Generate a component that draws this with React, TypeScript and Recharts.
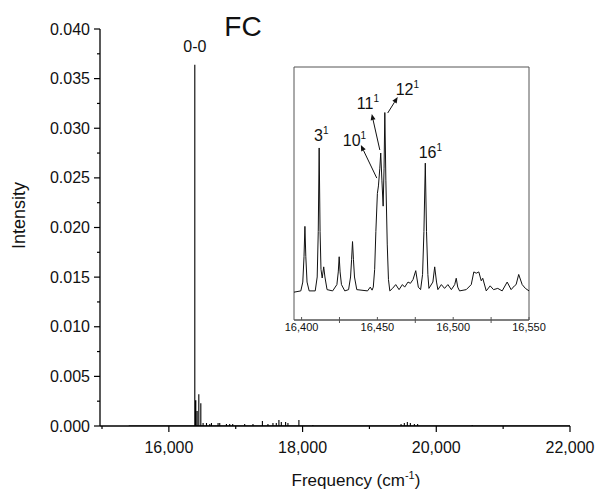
import React from 'react';
import { LineChart, Line, XAxis, YAxis, ReferenceDot, ReferenceLine, ReferenceArea } from 'recharts';

const FONT = '"Liberation Sans", Arial, sans-serif';

// main stick spectrum (cm-1, intensity)
const stickFreq = [
  16388, 16403, 16423, 16448, 16478, 16512, 16563, 16612, 16637, 16736, 16761, 16861, 16910,
  16955, 17134, 17258, 17399, 17482, 17557, 17607, 17646, 17682, 17746, 17781, 17945, 18154,
  19473, 19522, 19567, 19612, 19672, 19721, 20537,
];
const stickHeight = [
  0.0364, 0.0026, 0.0015, 0.0032, 0.0023, 0.0003, 0.0003, 0.0002, 0.0003, 0.0003, 0.0003, 0.0002,
  0.0002, 0.0002, 0.0002, 0.0002, 0.0005, 0.0002, 0.0003, 0.0003, 0.0006, 0.0004, 0.0004, 0.0003,
  0.0006, 0.0001, 0.0002, 0.0003, 0.0004, 0.0003, 0.0002, 0.0002, 0.0001,
];
const spectrumStart = 15400;
const spectrumEnd = 22000;

const mainXDomain = [14970, 22000];
const mainXTicks = [15000, 16000, 17000, 18000, 19000, 20000, 21000, 22000];
const mainYTicks = [
  0, 0.0025, 0.005, 0.0075, 0.01, 0.0125, 0.015, 0.0175, 0.02, 0.0225, 0.025, 0.0275, 0.03,
  0.0325, 0.035, 0.0375, 0.04,
];

// inset: broadened spectrum 16,395 - 16,550 cm-1 (relative units)
const insetDomain = [16395, 16550];
const insetFreq = [
  16395.0, 16399.5, 16400.8, 16401.6, 16402.2, 16402.8, 16403.6, 16405.0, 16409.0, 16410.3,
  16411.0, 16411.6, 16412.2, 16412.8, 16413.6, 16414.6, 16415.4, 16416.8, 16420.5, 16423.3,
  16424.2, 16424.8, 16425.4, 16426.3, 16428.5, 16431.0, 16432.3, 16433.0, 16433.6, 16434.2,
  16434.9, 16436.4, 16443.5, 16445.3, 16446.5, 16447.3, 16448.2, 16449.0, 16450.0, 16450.7,
  16451.6, 16452.2, 16453.0, 16453.8, 16454.4, 16454.9, 16455.6, 16456.5, 16457.3, 16458.2,
  16460.0, 16462.1, 16464.3, 16466.5, 16468.0, 16470.2, 16471.8, 16473.5, 16475.3, 16477.0,
  16478.5, 16479.8, 16480.7, 16481.6, 16482.4, 16483.3, 16484.0, 16486.6, 16487.8, 16489.0,
  16489.9, 16492.2, 16494.3, 16496.5, 16498.8, 16501.0, 16502.0, 16503.0, 16504.2, 16508.6,
  16511.9, 16513.6, 16515.2, 16516.9, 16518.5, 16519.5, 16521.8, 16524.4, 16526.6, 16529.4,
  16532.3, 16535.6, 16538.2, 16540.4, 16541.5, 16543.2, 16545.5, 16547.6, 16550.0,
];
const insetIntensity = [
  0.11, 0.115, 0.15, 0.25, 0.37, 0.25, 0.15, 0.115, 0.115, 0.17,
  0.35, 0.68, 0.35, 0.2, 0.166, 0.21, 0.17, 0.12, 0.115, 0.14,
  0.19, 0.25, 0.19, 0.14, 0.115, 0.12, 0.17, 0.24, 0.31, 0.24,
  0.17, 0.12, 0.115, 0.13, 0.118, 0.13, 0.2, 0.35, 0.5, 0.53,
  0.6, 0.66, 0.55, 0.45, 0.6, 0.82, 0.55, 0.3, 0.16, 0.115,
  0.125, 0.14, 0.12, 0.14, 0.13, 0.15, 0.145, 0.16, 0.195, 0.13,
  0.12, 0.18, 0.35, 0.62, 0.35, 0.18, 0.125, 0.15, 0.21, 0.15,
  0.12, 0.14, 0.125, 0.14, 0.12, 0.14, 0.165, 0.13, 0.115, 0.12,
  0.14, 0.19, 0.185, 0.19, 0.155, 0.165, 0.115, 0.135, 0.12, 0.125,
  0.115, 0.15, 0.12, 0.135, 0.14, 0.18, 0.14, 0.125, 0.115,
];
const insetXTicks = [16400, 16425, 16450, 16475, 16500, 16525, 16550];

// inset peak assignments: label text, label anchor (left, baseline), arrow from/to
const peakLabels = ['3', '10', '11', '12', '16'];
const peakLabelX = [16408.2, 16427.2, 16436.4, 16462.1, 16477.2];
const peakLabelY = [0.708, 0.688, 0.834, 0.889, 0.64];
const arrows = [
  { from: [16449.6, 0.561], to: [16439.1, 0.692] },
  { from: [16451.6, 0.672], to: [16446.3, 0.814] },
  { from: [16456.8, 0.818], to: [16463.4, 0.881] },
];

const mainData: { f: number; v: number }[] = [{ f: spectrumStart, v: 0 }];
stickFreq.forEach((f, i) => {
  mainData.push({ f, v: 0 }, { f, v: stickHeight[i] }, { f, v: 0 });
});
mainData.push({ f: spectrumEnd, v: 0 });

const insetData = insetFreq.map((f, i) => ({ f, v: insetIntensity[i] }));

const MainXTick = (props: any) => {
  const { x, y, payload } = props;
  const major = payload.value % 2000 === 0;
  return (
    <g>
      <line x1={x} y1={y} x2={x} y2={y + (major ? 6 : 3)} stroke="#000" strokeWidth={1.2} />
      {major && (
        <text x={x} y={y + 27} textAnchor="middle" fontSize={16} fill="#111" fontFamily={FONT}>
          {payload.value.toLocaleString('en-US')}
        </text>
      )}
    </g>
  );
};

const MainYTick = (props: any) => {
  const { x, y, payload } = props;
  const r = payload.value / 0.005;
  const major = Math.abs(r - Math.round(r)) < 1e-6;
  return (
    <g>
      <line x1={x - (major ? 6 : 3)} y1={y} x2={x} y2={y} stroke="#000" strokeWidth={1.2} />
      {major && (
        <text x={x - 10} y={y + 5.5} textAnchor="end" fontSize={16} fill="#111" fontFamily={FONT}>
          {payload.value.toFixed(3)}
        </text>
      )}
    </g>
  );
};

const InsetXTick = (props: any) => {
  const { x, y, payload } = props;
  const major = payload.value % 50 === 0;
  return (
    <g>
      <line x1={x} y1={y - 3} x2={x} y2={major ? y : y + 3} stroke="#555" strokeWidth={1} />
      {major && (
        <text x={x} y={y + 11} textAnchor="middle" fontSize={11} fill="#111" fontFamily={FONT}>
          {payload.value.toLocaleString('en-US')}
        </text>
      )}
    </g>
  );
};

const xLabel = (props: any) => {
  const { x, y } = props.viewBox;
  return (
    <text x={x + 256} y={y + 60} textAnchor="middle" fontSize={17} fill="#111" fontFamily={FONT}>
      <tspan>Frequency (cm</tspan>
      <tspan dy={-7} fontSize={11}>-1</tspan>
      <tspan dy={7}>)</tspan>
    </text>
  );
};

const yLabel = (props: any) => {
  const { y, height } = props.viewBox;
  const cy = y + height / 2 - 12;
  return (
    <text
      x={25}
      y={cy}
      transform={`rotate(-90, 25, ${cy})`}
      textAnchor="middle"
      fontSize={18}
      fill="#111"
      fontFamily={FONT}
    >
      Intensity
    </text>
  );
};

const peakLabel = (name: string) => (props: any) => {
  const { x, y } = props.viewBox;
  return (
    <text x={x} y={y} fontSize={16} fill="#111" fontFamily={FONT}>
      <tspan>{name}</tspan>
      <tspan dy={-7} fontSize={10}>1</tspan>
    </text>
  );
};

const ArrowShape = (props: any) => {
  const { x1, y1, x2, y2 } = props;
  const a = Math.atan2(y2 - y1, x2 - x1);
  const len = 6;
  const w = 2.5;
  const bx = x2 - len * Math.cos(a);
  const by = y2 - len * Math.sin(a);
  const px = -Math.sin(a) * w;
  const py = Math.cos(a) * w;
  return (
    <g>
      <line x1={x1} y1={y1} x2={bx} y2={by} stroke="#111" strokeWidth={1} />
      <polygon points={`${x2},${y2} ${bx + px},${by + py} ${bx - px},${by - py}`} fill="#111" />
    </g>
  );
};

export default function App() {
  return (
    <div style={{ position: 'absolute', left: 0, top: 0, width: 595, height: 493, background: '#fff' }}>
      <LineChart width={595} height={493} data={mainData} margin={{ top: 29, right: 25, bottom: 37, left: 40 }}>
        <XAxis
          dataKey="f"
          type="number"
          domain={mainXDomain}
          ticks={mainXTicks}
          interval={0}
          tickSize={0}
          tickMargin={0}
          tickLine={false}
          tick={MainXTick}
          axisLine={{ stroke: '#000', strokeWidth: 1.3 }}
          height={30}
          allowDataOverflow
          label={xLabel}
        />
        <YAxis
          type="number"
          domain={[0, 0.04]}
          ticks={mainYTicks}
          interval={0}
          tickSize={0}
          tickMargin={0}
          tickLine={false}
          tick={MainYTick}
          axisLine={{ stroke: '#000', strokeWidth: 1.3 }}
          width={60}
          allowDataOverflow
          label={yLabel}
        />
        <Line type="linear" dataKey="v" stroke="#000" strokeWidth={1.1} dot={false} isAnimationActive={false} />
        <ReferenceDot
          x={16388}
          y={0.0364}
          r={0}
          fill="none"
          stroke="none"
          label={(props: any) => (
            <text x={props.viewBox.x} y={props.viewBox.y - 13} textAnchor="middle" fontSize={16} fill="#111" fontFamily={FONT}>
              0-0
            </text>
          )}
        />
      </LineChart>

      <div
        style={{
          position: 'absolute',
          left: 200,
          top: 13,
          width: 86,
          textAlign: 'center',
          fontFamily: FONT,
          fontSize: 28,
          lineHeight: '28px',
          color: '#111',
        }}
      >
        FC
      </div>

      <div style={{ position: 'absolute', left: 270, top: 50 }}>
        <LineChart width={290} height={300} data={insetData} margin={{ top: 17, right: 31, bottom: 10, left: 24 }}>
          <XAxis
            dataKey="f"
            type="number"
            domain={insetDomain}
            ticks={insetXTicks}
            interval={0}
            tickSize={0}
            tickMargin={0}
            tickLine={false}
            tick={InsetXTick}
            axisLine={{ stroke: '#555', strokeWidth: 1 }}
            height={20}
            allowDataOverflow
          />
          <YAxis type="number" domain={[0, 1]} hide allowDataOverflow />
          <ReferenceArea
            x1={insetDomain[0]}
            x2={insetDomain[1]}
            y1={0}
            y2={1}
            fill="none"
            fillOpacity={0}
            stroke="#555"
            strokeWidth={1}
            strokeOpacity={1}
          />
          <Line type="linear" dataKey="v" stroke="#111" strokeWidth={1} dot={false} isAnimationActive={false} />
          {arrows.map((a, i) => (
            <ReferenceLine
              key={`arrow-${i}`}
              segment={[
                { x: a.from[0], y: a.from[1] },
                { x: a.to[0], y: a.to[1] },
              ]}
              shape={ArrowShape}
            />
          ))}
          {peakLabels.map((name, i) => (
            <ReferenceDot
              key={`lbl-${name}`}
              x={peakLabelX[i]}
              y={peakLabelY[i]}
              r={0}
              fill="none"
              stroke="none"
              label={peakLabel(name)}
            />
          ))}
        </LineChart>
      </div>
    </div>
  );
}
